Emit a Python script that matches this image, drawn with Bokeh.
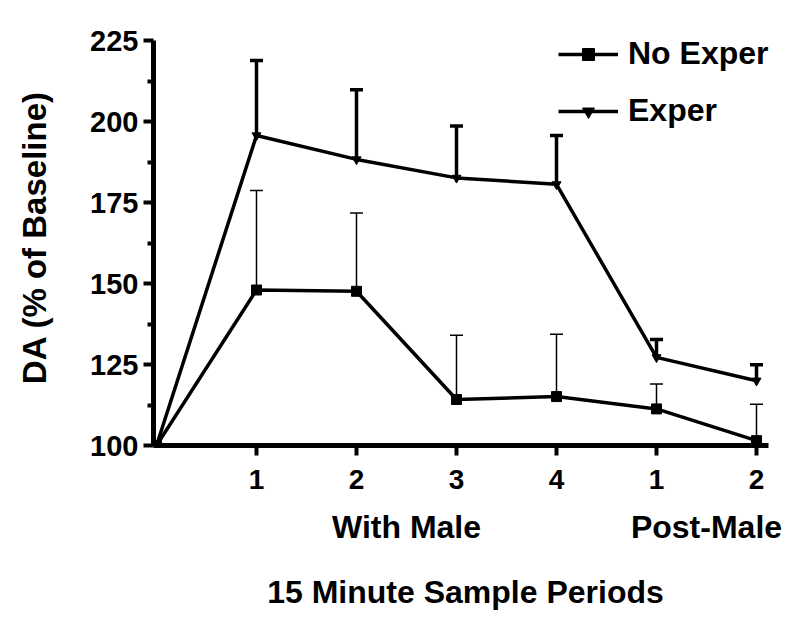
from bokeh.plotting import figure
from bokeh.models import (ColumnDataSource, Whisker, TeeHead, LinearAxis, FixedTicker,
                          Legend, LegendItem, Range1d)
from bokeh.embed import file_html
from bokeh.resources import INLINE

# ---- data ----
periods = [0, 1, 2, 3, 4, 5, 6]
tick_positions = [1, 2, 3, 4, 5, 6]
tick_labels = ["1", "2", "3", "4", "1", "2"]
group_positions = [2.5, 5.5]
group_labels = ["With Male", "Post-Male"]

no_exper_mean = [100, 148.0, 147.6, 114.2, 115.1, 111.3, 101.5]
no_exper_upper = [100, 178.7, 171.8, 134.0, 134.3, 119.0, 112.7]
exper_mean = [100, 195.7, 188.3, 182.6, 180.6, 127.2, 120.0]
exper_upper = [100, 218.8, 209.8, 198.6, 195.7, 132.7, 124.9]

FONT = "Liberation Sans"

p = figure(width=792, height=614, output_backend="svg", toolbar_location=None,
           x_range=Range1d(-0.03, 6.21), y_range=Range1d(100, 228.4),
           min_border_left=153, min_border_right=15, min_border_top=29,
           min_border_bottom=169, x_axis_location=None, y_axis_location=None)
p.outline_line_color = None
p.xgrid.visible = False
p.ygrid.visible = False
p.background_fill_color = "white"

src_no = ColumnDataSource(dict(x=periods[1:], m=no_exper_mean[1:], u=no_exper_upper[1:]))
src_ex = ColumnDataSource(dict(x=periods[1:], m=exper_mean[1:], u=exper_upper[1:]))

# error bars (upper only)
w_no = Whisker(source=src_no, base="x", lower="m", upper="u", line_color="black", line_width=1.5,
               upper_head=TeeHead(size=13, line_color="black", line_width=1.5), lower_head=None)
w_ex = Whisker(source=src_ex, base="x", lower="m", upper="u", line_color="black", line_width=3.5,
               upper_head=TeeHead(size=13, line_color="black", line_width=3.5), lower_head=None)
p.add_layout(w_no)
p.add_layout(w_ex)

l_no = p.line(periods, no_exper_mean, line_color="black", line_width=3.5)
s_no = p.scatter(periods, no_exper_mean, marker="square", size=10, fill_color="black", line_color="black")
l_ex = p.line(periods, exper_mean, line_color="black", line_width=3.5)
s_ex = p.scatter(periods, exper_mean, marker="inverted_triangle", size=9, fill_color="black",
                 line_color="black")

# y axis
yax = LinearAxis(ticker=FixedTicker(ticks=[100, 125, 150, 175, 200, 225],
                                    minor_ticks=[112.5, 137.5, 162.5, 187.5, 212.5]),
                 axis_label="DA (% of Baseline)", bounds=(100, 225))
yax.axis_line_width = 5
yax.major_tick_line_width = 4
yax.minor_tick_line_width = 4
yax.major_tick_out = 10
yax.major_tick_in = 0
yax.minor_tick_out = 6
yax.minor_tick_in = 0
yax.major_label_text_font = FONT
yax.major_label_text_font_style = "bold"
yax.major_label_text_font_size = "29px"
yax.major_label_text_color = "black"
yax.major_label_standoff = 5
yax.axis_label_text_font = FONT
yax.axis_label_text_font_style = "bold"
yax.axis_label_text_font_size = "33px"
yax.axis_label_text_color = "black"
yax.axis_label_standoff = 34
p.add_layout(yax, "left")

# x axis (period numbers)
xax = LinearAxis(ticker=FixedTicker(ticks=tick_positions, minor_ticks=[]),
                 major_label_overrides={pos: lab for pos, lab in zip(tick_positions, tick_labels)},
                 bounds=(-0.03, 6.12))
xax.axis_line_width = 5
xax.major_tick_line_width = 4
xax.major_tick_out = 10
xax.major_tick_in = 0
xax.major_label_text_font = FONT
xax.major_label_text_font_style = "bold"
xax.major_label_text_font_size = "28px"
xax.major_label_text_color = "black"
xax.major_label_standoff = 14
p.add_layout(xax, "below")

# group axis
gax = LinearAxis(ticker=FixedTicker(ticks=group_positions, minor_ticks=[]),
                 major_label_overrides={pos: lab for pos, lab in zip(group_positions, group_labels)},
                 axis_label="15 Minute Sample Periods", bounds=(-0.03, 6.12))
gax.axis_line_color = None
gax.major_tick_line_color = None
gax.minor_tick_line_color = None
gax.major_label_text_font = FONT
gax.major_label_text_font_style = "bold"
gax.major_label_text_font_size = "32px"
gax.major_label_text_color = "black"
gax.major_label_standoff = 11
gax.axis_label_text_font = FONT
gax.axis_label_text_font_style = "bold"
gax.axis_label_text_font_size = "32px"
gax.axis_label_text_color = "black"
gax.axis_label_standoff = 26
p.add_layout(gax, "below")

legend = Legend(items=[LegendItem(label="No Exper", renderers=[l_no, s_no]),
                       LegendItem(label="Exper", renderers=[l_ex, s_ex])],
                location=(405, 316), glyph_width=60, glyph_height=30, label_standoff=10,
                spacing=20, padding=5, margin=0, border_line_color=None,
                background_fill_alpha=0, label_text_font=FONT, label_text_font_style="bold",
                label_text_font_size="32px", label_text_color="black")
p.add_layout(legend)

open("out.html", "w").write(file_html(p, INLINE))
